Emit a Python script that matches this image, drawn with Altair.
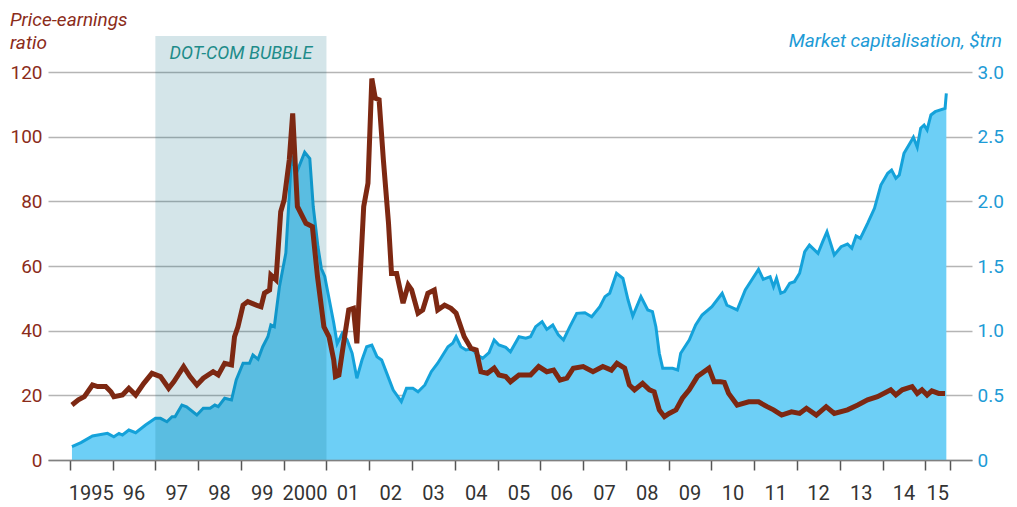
import altair as alt
import pandas as pd

# ---- data ----
pe_t = [1995.05, 1995.20, 1995.34, 1995.53, 1995.65, 1995.84, 1995.96, 1996.03, 1996.23, 1996.38,
        1996.54, 1996.73, 1996.92, 1997.12, 1997.31, 1997.43, 1997.66, 1997.81, 1997.97, 1998.12,
        1998.35, 1998.47, 1998.62, 1998.78, 1998.85, 1998.93, 1999.05, 1999.16, 1999.36, 1999.47,
        1999.55, 1999.67, 1999.70, 1999.82, 1999.93, 2000.01, 2000.13, 2000.21, 2000.32, 2000.52,
        2000.67, 2000.79, 2000.94, 2001.06, 2001.17, 2001.21, 2001.29, 2001.40, 2001.52, 2001.63,
        2001.71, 2001.79, 2001.87, 2001.97, 2002.06, 2002.14, 2002.23, 2002.33, 2002.45, 2002.52,
        2002.64, 2002.79, 2002.91, 2002.99, 2003.14, 2003.25, 2003.37, 2003.52, 2003.60, 2003.76,
        2003.91, 2004.03, 2004.22, 2004.38, 2004.50, 2004.61, 2004.76, 2004.92, 2005.03, 2005.19,
        2005.30, 2005.50, 2005.77, 2005.96, 2006.15, 2006.31, 2006.46, 2006.62, 2006.77, 2007.00,
        2007.23, 2007.46, 2007.66, 2007.79, 2007.97, 2008.08, 2008.20, 2008.39, 2008.55, 2008.66,
        2008.78, 2008.90, 2009.01, 2009.17, 2009.32, 2009.48, 2009.67, 2009.94, 2010.06, 2010.21,
        2010.30, 2010.40, 2010.60, 2010.87, 2011.10, 2011.30, 2011.45, 2011.64, 2011.87, 2012.06,
        2012.22, 2012.45, 2012.68, 2012.87, 2013.18, 2013.42, 2013.65, 2013.88, 2014.19, 2014.31,
        2014.46, 2014.69, 2014.81, 2014.92, 2015.04, 2015.15, 2015.31, 2015.46]
pe_v = [17.0, 18.6, 19.6, 23.2, 22.7, 22.7, 21.1, 19.6, 20.1, 22.2,
        20.1, 23.7, 26.8, 25.8, 22.2, 24.2, 28.9, 25.8, 23.2, 25.3,
        27.3, 26.3, 29.9, 29.4, 38.1, 41.2, 47.9, 49.0, 47.9, 47.4,
        51.6, 52.6, 57.2, 55.7, 76.8, 80.4, 92.8, 107.2, 78.4, 73.2,
        72.2, 56.7, 41.2, 38.1, 30.9, 25.8, 26.3, 36.1, 46.4, 46.9,
        36.1, 57.7, 78.4, 85.6, 118.0, 111.9, 111.4, 92.8, 73.2, 57.7,
        57.7, 48.5, 54.1, 52.6, 45.4, 46.4, 51.6, 52.6, 46.4, 47.9,
        46.9, 45.4, 38.1, 34.5, 34.0, 27.3, 26.8, 28.4, 26.3, 25.8,
        24.2, 26.3, 26.3, 28.9, 27.3, 27.8, 24.7, 25.3, 28.4, 28.9,
        27.3, 28.9, 27.8, 29.9, 28.4, 23.2, 21.7, 23.7, 21.7, 21.1,
        15.5, 13.4, 14.4, 15.5, 19.1, 21.7, 25.8, 28.4, 24.2, 24.2,
        24.0, 20.6, 17.0, 18.0, 18.0, 16.5, 15.5, 13.9, 14.9, 14.4,
        16.0, 13.9, 16.5, 14.4, 15.5, 17.0, 18.6, 19.6, 21.7, 20.1,
        21.7, 22.7, 20.6, 21.7, 20.1, 21.4, 20.6, 20.6]

cap_t = [1995.05, 1995.26, 1995.53, 1995.88, 1996.03, 1996.15, 1996.23, 1996.38, 1996.54, 1996.77,
         1997.00, 1997.12, 1997.27, 1997.39, 1997.46, 1997.62, 1997.73, 1997.97, 1998.12, 1998.28,
         1998.39, 1998.47, 1998.62, 1998.78, 1998.89, 1999.05, 1999.20, 1999.28, 1999.40, 1999.51,
         1999.63, 1999.70, 1999.78, 1999.90, 2000.05, 2000.17, 2000.21, 2000.30, 2000.49, 2000.61,
         2000.69, 2000.80, 2000.88, 2000.96, 2001.17, 2001.25, 2001.37, 2001.48, 2001.60, 2001.71,
         2001.83, 2001.94, 2002.06, 2002.18, 2002.29, 2002.41, 2002.56, 2002.75, 2002.87, 2003.02,
         2003.14, 2003.30, 2003.45, 2003.60, 2003.84, 2003.95, 2004.03, 2004.14, 2004.26, 2004.40,
         2004.53, 2004.65, 2004.80, 2004.92, 2005.03, 2005.19, 2005.30, 2005.50, 2005.66, 2005.77,
         2005.89, 2006.04, 2006.15, 2006.29, 2006.42, 2006.54, 2006.69, 2006.85, 2007.04, 2007.20,
         2007.39, 2007.51, 2007.62, 2007.78, 2007.93, 2008.05, 2008.16, 2008.35, 2008.51, 2008.62,
         2008.70, 2008.78, 2008.86, 2009.09, 2009.21, 2009.28, 2009.48, 2009.63, 2009.78, 2010.01,
         2010.25, 2010.36, 2010.44, 2010.60, 2010.79, 2010.94, 2011.10, 2011.21, 2011.37, 2011.45,
         2011.52, 2011.62, 2011.71, 2011.83, 2011.94, 2012.06, 2012.18, 2012.29, 2012.49, 2012.60,
         2012.70, 2012.87, 2013.03, 2013.18, 2013.28, 2013.38, 2013.48, 2013.65, 2013.81, 2013.96,
         2014.12, 2014.21, 2014.31, 2014.39, 2014.50, 2014.66, 2014.72, 2014.81, 2014.89, 2014.97,
         2015.04, 2015.13, 2015.23, 2015.46, 2015.49]
cap_v = [0.103, 0.134, 0.186, 0.206, 0.180, 0.206, 0.193, 0.232, 0.211, 0.271,
         0.322, 0.322, 0.296, 0.335, 0.335, 0.425, 0.412, 0.348, 0.400, 0.400,
         0.425, 0.412, 0.477, 0.464, 0.619, 0.748, 0.748, 0.812, 0.779, 0.876,
         0.953, 1.044, 1.031, 1.34, 1.60, 2.27, 2.32, 2.22, 2.38, 2.33,
         1.96, 1.65, 1.48, 1.42, 1.06, 0.90, 0.98, 0.93, 0.825, 0.632,
         0.773, 0.876, 0.889, 0.799, 0.773, 0.670, 0.541, 0.451, 0.554, 0.554,
         0.528, 0.580, 0.683, 0.748, 0.876, 0.902, 0.953, 0.876, 0.851, 0.86,
         0.812, 0.786, 0.83, 0.928, 0.889, 0.871, 0.837, 0.953, 0.941, 0.953,
         1.031, 1.07, 1.01, 1.044, 0.967, 0.928, 1.031, 1.134, 1.139, 1.108,
         1.185, 1.263, 1.289, 1.444, 1.405, 1.237, 1.113, 1.263, 1.16, 1.147,
         1.031, 0.825, 0.709, 0.709, 0.696, 0.825, 0.928, 1.044, 1.121, 1.185,
         1.289, 1.198, 1.185, 1.160, 1.314, 1.392, 1.474, 1.397, 1.418, 1.34,
         1.405, 1.289, 1.302, 1.366, 1.379, 1.444, 1.611, 1.662, 1.598, 1.688,
         1.765, 1.585, 1.649, 1.67, 1.637, 1.732, 1.714, 1.830, 1.946, 2.126,
         2.217, 2.242, 2.178, 2.204, 2.371, 2.461, 2.495, 2.418, 2.565, 2.59,
         2.552, 2.668, 2.693, 2.719, 2.835]

pe_ticks = [0, 20, 40, 60, 80, 100, 120]
cap_ticks = [0, 0.5, 1.0, 1.5, 2.0, 2.5, 3.0]
year_ticks = list(range(1995, 2016)) + [2015.58]
label_pos = [y + 0.5 for y in range(1995, 2015)] + [2015.29]
label_txt = ["1995", "96", "97", "98", "99", "2000", "01", "02", "03", "04", "05",
             "06", "07", "08", "09", "10", "11", "12", "13", "14", "15"]
band_start, band_end = [1997.0], [2001.0]
band_mid = [1999.0]
band_label = ["DOT-COM BUBBLE"]

# ---- styling ----
FONT = "Roboto"
W, H = 924, 388
BROWN = "#7D2812"
BROWN_TXT = "#8B2C1A"
BLUE_LINE = "#14A2DA"
BLUE_FILL = "#6DCFF6"
BLUE_TXT = "#1D9BD6"

xscale = alt.Scale(domain=[1994.49, 2016.09], nice=False, zero=False)
xaxis = alt.Axis(values=year_ticks, labels=False, title=None, grid=False, tickSize=10,
                 tickColor="#555555", tickWidth=1.5, domainColor="#808080",
                 domainWidth=1.5, zindex=1)

cap_df = pd.DataFrame({"t": cap_t, "v": cap_v})
pe_df = pd.DataFrame({"t": pe_t, "v": pe_v})

area = alt.Chart(cap_df).mark_area(
    color=BLUE_FILL, opacity=1, line={"color": BLUE_LINE, "strokeWidth": 3}
).encode(
    x=alt.X("t:Q", scale=xscale, axis=xaxis),
    y=alt.Y("v:Q", scale=alt.Scale(domain=[0, 3], nice=False),
            axis=alt.Axis(orient="right", values=cap_ticks, title=None, grid=False,
                          ticks=False, domain=False, labelColor=BLUE_TXT, labelFont=FONT,
                          labelFontSize=19, labelPadding=5,
                          labelExpr="datum.value == 0 ? '0' : format(datum.value, '.1f')")),
)

band = alt.Chart(pd.DataFrame({"a": band_start, "b": band_end})).mark_rect(
    color="#00667F", opacity=0.17
).encode(
    x=alt.X("a:Q", scale=xscale, axis=xaxis), x2="b:Q",
    y=alt.value(-36), y2=alt.value(H),
)

pe_line = alt.Chart(pe_df).mark_line(color=BROWN, strokeWidth=5).encode(
    x=alt.X("t:Q", scale=xscale, axis=xaxis),
    y=alt.Y("v:Q", scale=alt.Scale(domain=[0, 120], nice=False),
            axis=alt.Axis(orient="left", values=pe_ticks, title=None, grid=True,
                          gridColor="#B5B5B5", gridWidth=1.5, ticks=False, domain=False,
                          labelColor=BROWN_TXT, labelFont=FONT, labelFontSize=19,
                          labelPadding=6)),
)

bubble_txt = alt.Chart(pd.DataFrame({"x": band_mid, "s": band_label})).mark_text(
    font=FONT, fontStyle="italic", fontSize=18, color="#1E8C8A", baseline="middle"
).encode(x=alt.X("x:Q", scale=xscale, axis=xaxis), y=alt.value(-18), text="s:N")

t1 = alt.Chart(pd.DataFrame({"s": ["Price-earnings"]})).mark_text(
    font=FONT, fontStyle="italic", fontSize=19, color=BROWN_TXT, align="left",
    baseline="alphabetic"
).encode(x=alt.value(-38), y=alt.value(-46), text="s:N")
t2 = alt.Chart(pd.DataFrame({"s": ["ratio"]})).mark_text(
    font=FONT, fontStyle="italic", fontSize=19, color=BROWN_TXT, align="left",
    baseline="alphabetic"
).encode(x=alt.value(-38), y=alt.value(-23), text="s:N")
t3 = alt.Chart(pd.DataFrame({"s": ["Market capitalisation, $trn"]})).mark_text(
    font=FONT, fontStyle="italic", fontSize=19, color=BLUE_TXT, align="right",
    baseline="alphabetic"
).encode(x=alt.value(W + 30), y=alt.value(-25), text="s:N")

xlabels = alt.Chart(pd.DataFrame({"p": label_pos, "s": label_txt})).mark_text(
    font=FONT, fontSize=20, color="#333333", baseline="middle"
).encode(x=alt.X("p:Q", scale=xscale, axis=xaxis), y=alt.value(422), text="s:N")

chart = alt.layer(area, band, pe_line, bubble_txt, t1, t2, t3, xlabels).resolve_scale(
    y="independent"
).properties(
    width=W, height=H, autosize="none",
    padding={"left": 40, "top": 64, "right": 37, "bottom": 45},
).configure_view(stroke=None)

chart.save("out.html", embed_options={"renderer": "svg", "actions": False})
